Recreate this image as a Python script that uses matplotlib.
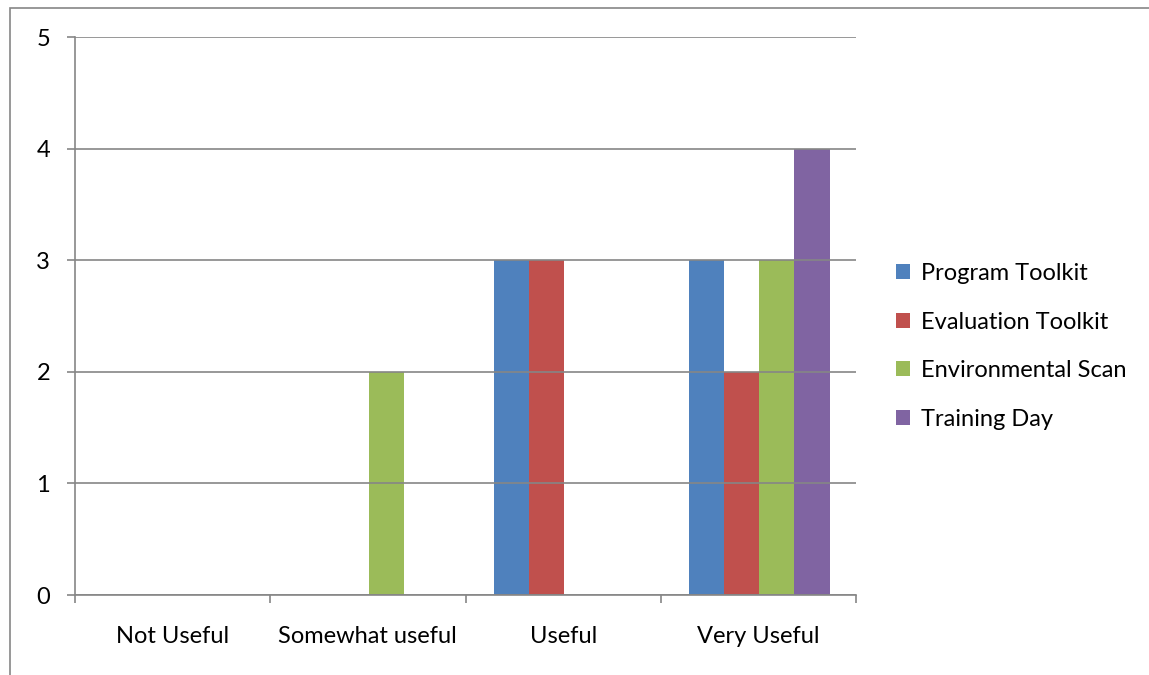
import numpy as np
import matplotlib.pyplot as plt
from matplotlib.patches import Rectangle

categories = ["Not Useful", "Somewhat useful", "Useful", "Very Useful"]
series = ["Program Toolkit", "Evaluation Toolkit", "Environmental Scan", "Training Day"]
program_toolkit = [0, 0, 3, 3]
evaluation_toolkit = [0, 0, 3, 2]
environmental_scan = [0, 2, 0, 3]
training_day = [0, 0, 0, 4]
colors = ["#4F81BD", "#C0504D", "#9BBB59", "#8064A2"]

plt.rcParams['font.family'] = ['Lato', 'DejaVu Sans']

fig = plt.figure(figsize=(11.49, 6.75), dpi=100)
ax = fig.add_axes([75 / 1149, 1 - 595 / 675, (856 - 75) / 1149, (595 - 37) / 675])

# outer chart frame, only top and left edges visible
fig.patches.append(Rectangle((10 / 1149, -0.1), 1.2, 1 - 8 / 675 + 0.1,
                             transform=fig.transFigure, fill=False,
                             edgecolor="#868686", linewidth=1.2))

x = np.arange(len(categories))
bw = 0.18
values = [program_toolkit, evaluation_toolkit, environmental_scan, training_day]
for i, (name, vals) in enumerate(zip(series, values)):
    ax.bar(x + (i - 1.5) * bw + 0.005, vals, bw, color=colors[i], label=name, zorder=2)

ax.set_xlim(-0.5, len(categories) - 0.5)
ax.set_ylim(0, 5)
ax.set_yticks(range(6))
ax.yaxis.grid(True, color="#868686", linewidth=1.2, zorder=3)
ax.set_axisbelow(False)

fs = 17
ax.set_xticks(x)
ax.set_xticklabels(categories, fontsize=fs)
ax.set_xticks(np.arange(-0.5, len(categories)), minor=True)
ax.tick_params(axis='x', which='major', length=0, pad=22)
ax.tick_params(axis='x', which='minor', length=6, color="#868686", width=1.2)
ax.tick_params(axis='y', length=6, color="#868686", width=1.2, labelsize=fs, pad=12)

for side in ["top", "right"]:
    ax.spines[side].set_visible(False)
for side in ["left", "bottom"]:
    ax.spines[side].set_color("#868686")
    ax.spines[side].set_linewidth(1.2)

ax.legend(loc="center left", bbox_to_anchor=(1.024, 0.4455), frameon=False,
          fontsize=fs, handlelength=0.6, handleheight=0.6, handletextpad=0.45,
          labelspacing=1.17)

fig.savefig("out.png", dpi=100)
